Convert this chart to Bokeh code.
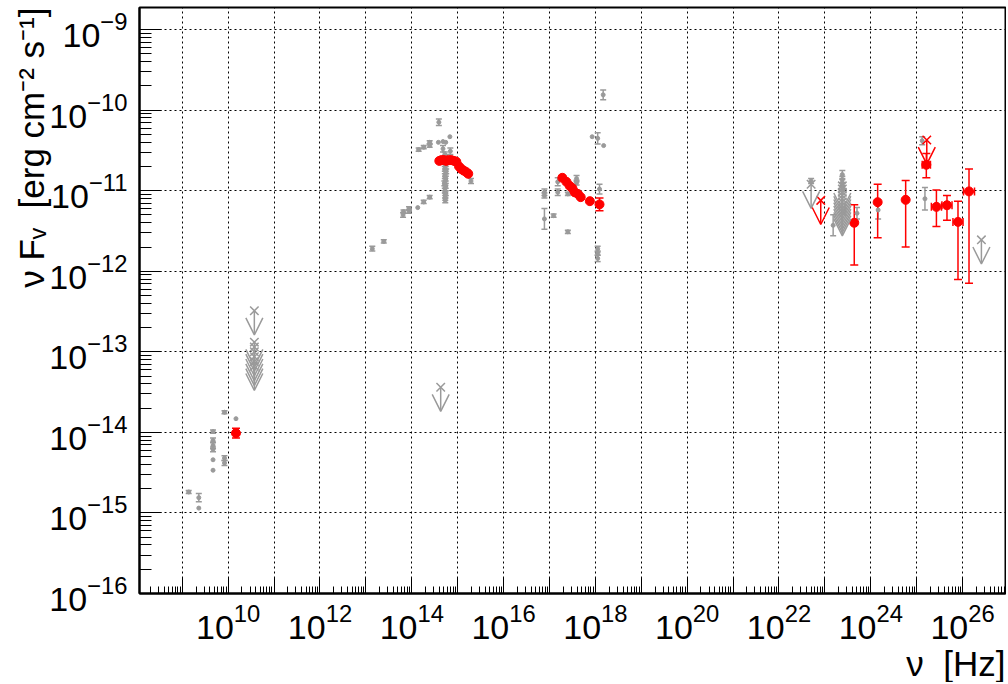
from bokeh.plotting import figure
from bokeh.models import (ColumnDataSource, FixedTicker, Whisker, TeeHead, Arrow,
                          OpenHead, Range1d, Title)
from bokeh.embed import file_html
from bokeh.resources import INLINE

# ---------------- data (log10 of nu [Hz] and nuFnu [erg cm-2 s-1]) ----------------
# archival (gray) points, error = half-length of error bar in decades (0 = none)
radio_lnu = [9.14, 9.36, 9.36, 9.67, 9.67, 9.67, 9.67, 9.67, 9.67, 9.92, 9.92, 9.92, 10.17]
radio_lF = [-14.74, -14.81, -14.94, -13.99, -14.10, -14.16, -14.21, -14.34, -14.47, -13.75, -14.32, -14.38, -13.83]
radio_err = [0.02, 0.05, 0.0, 0.02, 0.03, 0.04, 0.03, 0.0, 0.0, 0.02, 0.03, 0.03, 0.0]

opt_lnu = [13.14, 13.39, 13.81, 13.82, 13.94, 13.94, 14.13, 14.26, 14.39, 14.15, 14.26, 14.39, 14.39,
           14.58, 14.68, 14.74, 14.83, 14.59, 14.68, 14.84, 15.29]
opt_lF = [-11.72, -11.63, -11.30, -11.26, -11.22, -11.26, -11.21, -11.14, -11.08, -10.49, -10.46, -10.44, -10.40,
          -10.40, -10.39, -10.40, -10.33, -10.15, -10.48, -10.51, -10.88]
opt_err = [0.03, 0.02, 0.03, 0.02, 0.02, 0.02, 0.0, 0.02, 0.02, 0.02, 0.02, 0.02, 0.02,
           0.0, 0.0, 0.0, 0.0, 0.04, 0.04, 0.04, 0.03]

# dense optical monitoring column near 5e14 Hz
col_lnu = [14.72, 14.74, 14.73, 14.72, 14.74, 14.73, 14.72, 14.75, 14.73, 14.72,
           14.74, 14.73, 14.71, 14.74, 14.73, 14.72, 14.74, 14.73, 14.73, 14.73]
col_lF = [-10.55, -10.58, -10.61, -10.64, -10.67, -10.70, -10.73, -10.76, -10.79, -10.82,
          -10.85, -10.88, -10.91, -10.94, -10.97, -11.00, -11.03, -11.06, -11.09, -11.12]
col_err = [0.03] * 20

xray_lnu = [18.17, 17.93, 18.05, 18.18, 17.18, 17.18, 17.40, 17.59, 17.59, 16.89, 16.89, 16.89,
            17.09, 17.40, 18.09, 18.05, 18.05, 18.05]
xray_lF = [-9.81, -10.33, -10.35, -10.44, -10.89, -11.02, -11.04, -10.85, -10.90, -11.02, -11.06, -11.35,
           -11.31, -11.51, -10.98, -11.72, -11.78, -11.84]
xray_err = [0.06, 0.0, 0.07, 0.0, 0.05, 0.04, 0.02, 0.04, 0.03, 0.04, 0.03, 0.13,
            0.02, 0.02, 0.06, 0.03, 0.02, 0.04]

gam_lnu = [23.38, 23.38, 23.38, 23.38, 23.38, 23.18, 23.70, 24.16, 25.12, 25.18, 22.70]
gam_lF = [-10.80, -10.86, -10.90, -10.95, -11.00, -11.43, -11.28, -11.24, -10.38, -11.10, -10.88]
gam_err = [0.05, 0.04, 0.04, 0.04, 0.04, 0.13, 0.07, 0.11, 0.05, 0.14, 0.03]

# archival upper limits
gul_lnu = [10.57, 10.57, 10.57, 10.57, 10.57, 10.57, 10.57, 14.63, 22.70,
           23.38, 23.38, 23.38, 23.38, 23.38, 23.38, 23.38, 23.38, 23.38, 26.41]
gul_lF = [-12.49, -12.88, -12.94, -13.00, -13.06, -13.12, -13.18, -13.44, -10.92,
          -10.94, -10.98, -11.02, -11.06, -11.10, -11.14, -11.18, -11.22, -11.26, -11.61]

# simultaneous campaign (red)
red_lnu = [10.17,
           14.60, 14.65, 14.70, 14.75, 14.80, 14.86, 14.92, 14.97,
           15.03, 15.08, 15.13, 15.19, 15.23,
           17.28, 17.37, 17.44, 17.50, 17.55, 17.62, 17.68, 17.88, 18.09]
red_lF = [-14.01,
          -10.63, -10.62, -10.62, -10.63, -10.62, -10.62, -10.63, -10.64,
          -10.70, -10.73, -10.75, -10.77, -10.79,
          -10.84, -10.89, -10.94, -10.97, -11.02, -11.04, -11.08, -11.13, -11.17]
red_err = [0.06,
           0, 0, 0, 0, 0, 0, 0, 0,
           0, 0, 0, 0, 0,
           0, 0, 0, 0, 0, 0, 0, 0, 0.08]

# red gamma-ray spectrum (linear values)
rg_lnu = [23.64, 24.15, 24.76, 25.21, 25.43, 25.66, 25.90, 26.14]
rg_F = [4.0e-12, 7.2e-12, 7.7e-12, 2.1e-11, 6.3e-12, 6.6e-12, 4.1e-12, 9.8e-12]
rg_Flo = [1.2e-12, 2.6e-12, 2.0e-12, 1.45e-11, 3.6e-12, 4.3e-12, 7.9e-13, 7.1e-13]
rg_Fhi = [6.7e-12, 1.2e-11, 1.34e-11, 2.9e-11, 1.02e-11, 8.7e-12, 7.4e-12, 1.86e-11]
rg_xerr = [0.0, 0.0, 0.0, 0.09, 0.11, 0.11, 0.11, 0.12]

# red upper limits
rul_lnu = [22.91, 25.22]
rul_lF = [-11.12, -10.37]

x_major = list(range(9, 27))
x_labelled = list(range(10, 27, 2))
y_major = list(range(-16, -8))

NB = "\u00a0"
x_title = "\u03bd" + NB + NB + "[Hz]"
y_title = "\u03bd" + NB + "F\u1d65" + NB + NB + "[erg" + NB + "cm\u207b\u00b2" + NB + "s\u207b\u00b9]"

# ---------------- styling ----------------
GRAY = "#9a9a9a"
RED = "#ff0000"
FONT = "Liberation Sans"
W, H = 1006, 682
BL, BR, BT, BB = 139, 1, 7, 86
ARROW_DEC = 0.30

p = figure(width=W, height=H, x_axis_type="log", y_axis_type="log",
           x_range=Range1d(10 ** 8.068, 10 ** 26.935), y_range=Range1d(1e-16, 10 ** -8.726),
           output_backend="svg", toolbar_location=None,
           min_border_left=BL, min_border_right=BR, min_border_top=BT, min_border_bottom=BB)
p.background_fill_color = "white"
p.border_fill_color = "white"
p.outline_line_color = "black"
p.outline_line_width = 2

xt = FixedTicker(ticks=[float(10 ** k) for k in x_major],
                 minor_ticks=[m * float(10 ** k) for k in range(8, 27) for m in range(2, 10)])
yt = FixedTicker(ticks=[10.0 ** k for k in y_major],
                 minor_ticks=[m * 10.0 ** k for k in range(-16, -8) for m in range(2, 10)])
p.xaxis.ticker = xt
p.yaxis.ticker = yt
p.xaxis.major_label_overrides = {float(10 ** k): "" for k in x_major if k not in x_labelled}

for ax in (p.xaxis[0], p.yaxis[0]):
    ax.axis_line_width = 2
    ax.axis_line_color = "black"
    ax.major_tick_out = 0
    ax.minor_tick_out = 0
    ax.major_tick_line_color = "black"
    ax.minor_tick_line_color = "black"
    ax.major_label_text_font = FONT
    ax.major_label_text_font_size = "34px"
    ax.major_label_text_color = "black"
p.xaxis.major_tick_in = 16
p.xaxis.minor_tick_in = 7
p.yaxis.major_tick_in = 22
p.yaxis.minor_tick_in = 12
p.xaxis.major_label_standoff = 10
p.yaxis.major_label_standoff = 12

# axis titles, right/top aligned as in the reference
p.add_layout(Title(text=x_title, align="right", text_font=FONT, text_font_size="35px",
                   text_font_style="normal", text_color="black", standoff=0, offset=0), "below")
p.add_layout(Title(text=y_title, align="right", text_font=FONT, text_font_size="35px",
                   text_font_style="normal", text_color="black", standoff=-9, offset=0), "left")

for g in (p.xgrid[0], p.ygrid[0]):
    g.grid_line_color = "black"
    g.grid_line_dash = "2 3"
    g.grid_line_width = 1


def pts(lnu, lF, err):
    x = [10 ** a for a in lnu]
    y = [10 ** b for b in lF]
    ex = [10 ** a for a, e in zip(lnu, err) if e > 0]
    lo = [10 ** (b - e) for b, e in zip(lF, err) if e > 0]
    hi = [10 ** (b + e) for b, e in zip(lF, err) if e > 0]
    return x, y, ex, lo, hi


def draw_points(lnu, lF, err, color, size, cap):
    x, y, ex, lo, hi = pts(lnu, lF, err)
    if ex:
        src = ColumnDataSource(dict(x=ex, lo=lo, hi=hi))
        p.add_layout(Whisker(source=src, base="x", lower="lo", upper="hi", dimension="height",
                             line_color=color, line_width=1.5,
                             upper_head=TeeHead(size=cap, line_color=color, line_width=1.5),
                             lower_head=TeeHead(size=cap, line_color=color, line_width=1.5)))
    p.scatter(x, y, marker="circle", size=size, fill_color=color, line_color=color)


def draw_uls(lnu, lF, color):
    x = [10 ** a for a in lnu]
    y = [10 ** b for b in lF]
    ye = [v * 10 ** (-ARROW_DEC) for v in y]
    src = ColumnDataSource(dict(x=x, y=y, ye=ye))
    p.add_layout(Arrow(source=src, x_start="x", y_start="y", x_end="x", y_end="ye",
                       line_color=color, line_width=1.5,
                       end=OpenHead(size=17, line_color=color, line_width=1.5)))
    p.scatter(x, y, marker="x", size=12, line_color=color, line_width=1.5)


# gray archival
for a, b, c in ((radio_lnu, radio_lF, radio_err), (opt_lnu, opt_lF, opt_err), (col_lnu, col_lF, col_err),
                (xray_lnu, xray_lF, xray_err), (gam_lnu, gam_lF, gam_err)):
    draw_points(a, b, c, GRAY, 4, 6)
draw_uls(gul_lnu, gul_lF, GRAY)

# red
draw_points(red_lnu, red_lF, red_err, RED, 9, 8)
rx = [10 ** a for a in rg_lnu]
src = ColumnDataSource(dict(x=rx, y=rg_F, lo=rg_Flo, hi=rg_Fhi))
p.add_layout(Whisker(source=src, base="x", lower="lo", upper="hi", dimension="height",
                     line_color=RED, line_width=1.5,
                     upper_head=TeeHead(size=8, line_color=RED, line_width=1.5),
                     lower_head=TeeHead(size=8, line_color=RED, line_width=1.5)))
hx = [(10 ** (a - e), 10 ** (a + e), f) for a, e, f in zip(rg_lnu, rg_xerr, rg_F) if e > 0]
srch = ColumnDataSource(dict(y=[h[2] for h in hx], lo=[h[0] for h in hx], hi=[h[1] for h in hx]))
p.add_layout(Whisker(source=srch, base="y", lower="lo", upper="hi", dimension="width",
                     line_color=RED, line_width=1.5,
                     upper_head=TeeHead(size=8, line_color=RED, line_width=1.5),
                     lower_head=TeeHead(size=8, line_color=RED, line_width=1.5)))
p.scatter(rx, rg_F, marker="circle", size=9, fill_color=RED, line_color=RED)
draw_uls(rul_lnu, rul_lF, RED)

open("out.html", "w").write(file_html(p, INLINE))
